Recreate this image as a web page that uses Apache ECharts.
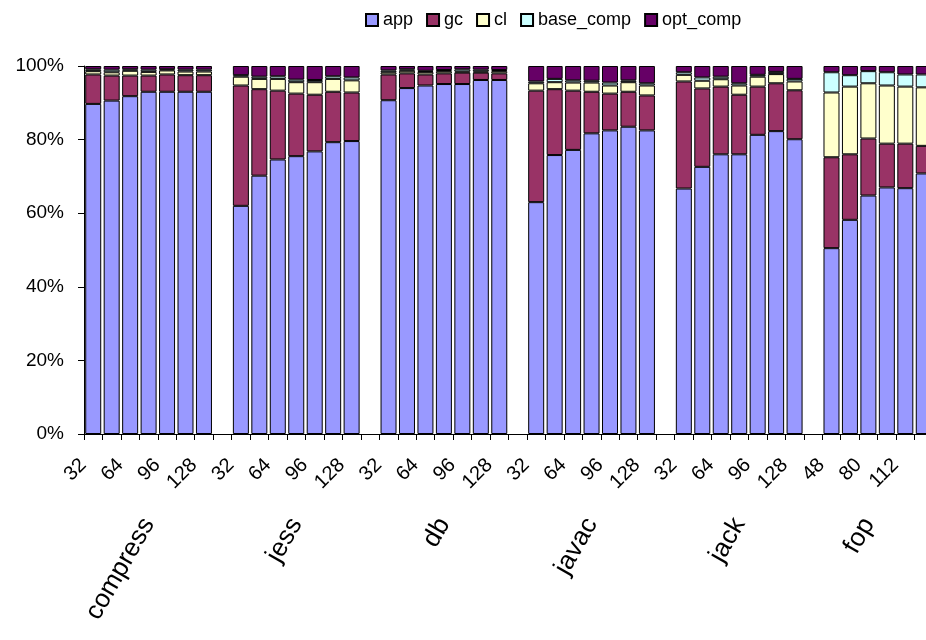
<!DOCTYPE html>
<html>
<head>
<meta charset="utf-8">
<script src="https://cdn.jsdelivr.net/npm/echarts@6/dist/echarts.min.js"></script>
<style>
  html, body { margin: 0; padding: 0; background: #ffffff; overflow: hidden; }
  /* the drawing surface is wider than the window, so the last group runs off the right edge */
  #chart { width: 950px; height: 640px; }
</style>
</head>
<body>
<div id="chart"></div>
<script>
// Execution-time breakdown per benchmark and heap size (percent of total time)
const benchmarks = ['compress', 'jess', 'db', 'javac', 'jack', 'fop'];
const heapSizes = [
  [32, 48, 64, 80, 96, 112, 128],
  [32, 48, 64, 80, 96, 112, 128],
  [32, 48, 64, 80, 96, 112, 128],
  [32, 48, 64, 80, 96, 112, 128],
  [32, 48, 64, 80, 96, 112, 128],
  [48, 64, 80, 96, 112, 128]
];

const app = [
  [89.7, 90.6, 91.8, 93.0, 93.0, 93.0, 93.0],
  [62.0, 70.2, 74.6, 75.5, 76.8, 79.3, 79.6],
  [90.7, 94.0, 94.7, 95.1, 95.1, 96.2, 96.2],
  [63.0, 75.8, 77.2, 81.7, 82.5, 83.5, 82.5],
  [66.7, 72.6, 76.0, 76.0, 81.3, 82.3, 80.1],
  [50.5, 58.2, 64.8, 67.0, 66.8, 70.8]
];
const gc = [
  [8.0, 6.8, 5.6, 4.4, 4.7, 4.5, 4.5],
  [32.7, 23.5, 18.7, 17.0, 15.4, 13.7, 13.2],
  [7.0, 4.0, 3.0, 2.9, 3.1, 2.0, 1.8],
  [30.3, 17.9, 16.1, 11.3, 10.0, 9.5, 9.5],
  [29.1, 21.3, 18.4, 16.2, 13.1, 13.0, 13.3],
  [24.7, 17.8, 15.5, 11.9, 12.1, 7.5]
];
const cl = [
  [0.9, 0.9, 1.3, 1.0, 1.1, 1.0, 1.0],
  [2.4, 2.8, 3.2, 3.1, 3.4, 3.5, 3.3],
  [0.6, 0.7, 0.7, 0.6, 0.3, 0.3, 0.6],
  [2.0, 1.9, 2.2, 2.5, 2.2, 2.6, 2.7],
  [1.8, 2.1, 2.0, 2.5, 2.7, 2.5, 2.4],
  [17.6, 18.4, 15.0, 15.8, 15.5, 15.9]
];
const baseComp = [
  [0.5, 0.7, 0.4, 0.6, 0.3, 0.5, 0.5],
  [0.4, 0.6, 0.7, 0.7, 0.6, 0.7, 0.8],
  [0.5, 0.4, 0.3, 0.3, 0.6, 0.5, 0.3],
  [0.5, 0.9, 0.6, 0.5, 0.8, 0.5, 0.6],
  [0.7, 0.9, 0.7, 0.6, 0.5, 0.6, 0.7],
  [5.5, 3.1, 3.3, 3.6, 3.3, 3.5]
];
const optComp = [
  [0.9, 1.0, 0.9, 1.0, 0.9, 1.0, 1.0],
  [2.5, 2.9, 2.8, 3.7, 3.8, 2.8, 3.1],
  [1.2, 0.9, 1.3, 1.1, 0.9, 1.0, 1.1],
  [4.2, 3.5, 3.9, 4.0, 4.5, 3.9, 4.7],
  [1.7, 3.1, 2.9, 4.7, 2.4, 1.6, 3.5],
  [1.7, 2.5, 1.4, 1.7, 2.3, 2.3]
];

const seriesNames = ['app', 'gc', 'cl', 'base_comp', 'opt_comp'];
const seriesColors = ['#9999FF', '#993366', '#FFFFCC', '#CCFFFF', '#660066'];
const yTicks = [0, 20, 40, 60, 80, 100];

// Flatten the groups into one category axis, with an empty slot between groups
const sizeLabels = [];
const groupLabels = [];
heapSizes.forEach((sizes, g) => {
  const start = sizeLabels.length;
  sizes.forEach(s => { sizeLabels.push(String(s)); groupLabels.push(''); });
  const mid = start + Math.floor((sizes.length - 1) / 2);
  groupLabels[mid] = benchmarks[g];
  if (g < heapSizes.length - 1) { sizeLabels.push(''); groupLabels.push(''); }
});

function flatten(groups) {
  const out = [];
  groups.forEach((vals, g) => {
    vals.forEach(v => out.push(v));
    if (g < groups.length - 1) out.push(null);
  });
  return out;
}

const seriesData = [app, gc, cl, baseComp, optComp].map(flatten);

const FONT = 'Liberation Sans, Arial, sans-serif';

const chart = echarts.init(document.getElementById('chart'), null, { renderer: 'canvas' });

chart.setOption({
  animation: false,
  backgroundColor: '#ffffff',
  textStyle: { fontFamily: FONT, color: '#000' },
  legend: {
    data: seriesNames,
    top: 6,
    left: 360,
    itemWidth: 12,
    itemHeight: 12,
    itemGap: 13,
    icon: 'rect',
    textStyle: { fontFamily: FONT, fontSize: 18, color: '#000' }
  },
  grid: { left: 84, top: 66, right: 17, bottom: 206, containLabel: false },
  xAxis: [
    {
      type: 'category',
      data: sizeLabels,
      boundaryGap: true,
      axisLine: { show: true, lineStyle: { color: '#000', width: 1 } },
      axisTick: { show: true, interval: 0, length: 6, lineStyle: { color: '#000' } },
      axisLabel: {
        interval: 1,
        rotate: 45,
        margin: 18,
        padding: [0, 14, 0, 0],
        fontFamily: FONT,
        fontSize: 20,
        color: '#000'
      },
      splitLine: { show: false }
    },
    {
      type: 'category',
      data: groupLabels,
      position: 'bottom',
      offset: 86,
      boundaryGap: true,
      axisLine: { show: false },
      axisTick: { show: false },
      axisLabel: {
        interval: 0,
        rotate: 60,
        margin: 0,
        fontFamily: FONT,
        fontSize: 26,
        color: '#000'
      },
      splitLine: { show: false }
    }
  ],
  yAxis: {
    type: 'value',
    min: yTicks[0],
    max: yTicks[yTicks.length - 1],
    interval: 20,
    axisLine: { show: true, lineStyle: { color: '#000', width: 1 } },
    axisTick: { show: true, length: 6, lineStyle: { color: '#000' } },
    axisLabel: {
      formatter: '{value}%',
      margin: 20,
      fontFamily: FONT,
      fontSize: 19,
      color: '#000'
    },
    splitLine: { show: false }
  },
  series: seriesNames.map((name, i) => ({
    name: name,
    type: 'bar',
    stack: 'total',
    xAxisIndex: 0,
    barWidth: 16,
    data: seriesData[i],
    itemStyle: {
      color: seriesColors[i],
      borderColor: '#000',
      borderWidth: 1
    },
    emphasis: { disabled: true }
  }))
});
</script>
</body>
</html>
